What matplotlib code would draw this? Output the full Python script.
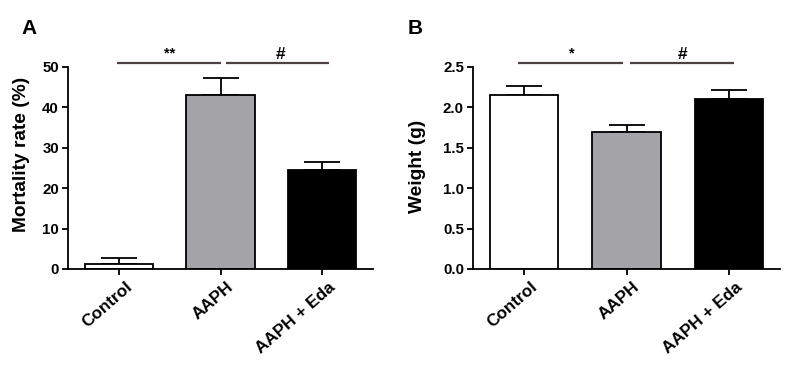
import matplotlib
matplotlib.use("Agg")
import matplotlib.pyplot as plt
import matplotlib.transforms as mtransforms
import numpy as np

plt.rcParams['font.family'] = ['Liberation Sans', 'DejaVu Sans']

categories = ["Control", "AAPH", "AAPH + Eda"]
mortality = [1.3, 43.1, 24.4]
mortality_err = [1.3, 4.2, 2.2]
weight = [2.155, 1.695, 2.108]
weight_err = [0.105, 0.09, 0.105]
bar_colors = ["white", "#a4a4a8", "black"]

fig = plt.figure(figsize=(8, 3.71), dpi=100)
axA = fig.add_axes([68/800, 1-269/371, (373-68)/800, (269-67)/371])
axB = fig.add_axes([473/800, 1-269/371, (780-473)/800, (269-67)/371])

lw = 1.3
sig_color = "#4d4242"

def draw(ax, vals, errs, ylim, yticks, yticklabels, ylabel, label_xy, sigs):
    x = np.arange(len(categories))
    ax.bar(x, vals, width=0.67, color=bar_colors, edgecolor="black",
           linewidth=lw, zorder=2)
    ax.errorbar(x, vals, yerr=[np.zeros(len(errs)), errs], fmt="none",
                ecolor="black", elinewidth=lw, capsize=13, capthick=lw, zorder=1)
    ax.set_xlim(-0.5, 2.5)
    ax.set_ylim(*ylim)
    ax.set_yticks(yticks)
    ax.set_yticklabels(yticklabels, fontsize=10.8, fontweight="bold")
    ax.set_xticks(x)
    ax.set_xticklabels(categories, fontsize=12.3, fontweight="bold",
                       rotation=41, ha="right", va="center", rotation_mode="anchor")
    ax.set_ylabel(ylabel, fontsize=13.8, fontweight="bold")
    ax.yaxis.set_label_coords(*label_xy)
    for s in ["top", "right"]:
        ax.spines[s].set_visible(False)
    for s in ["left", "bottom"]:
        ax.spines[s].set_linewidth(lw)
    ax.tick_params(axis="both", direction="out", width=lw, length=4.5, pad=2)
    ax.tick_params(axis="x", pad=7)
    offset = mtransforms.ScaledTranslation(11/100, 0, fig.dpi_scale_trans)
    for lab in ax.xaxis.get_majorticklabels():
        lab.set_transform(lab.get_transform() + offset)
    for (x0, x1, y, txt, tx, fs, fw, dy) in sigs:
        ax.plot([x0, x1], [y, y], color=sig_color, lw=1.6, clip_on=False,
                solid_capstyle="butt")
        ax.text(tx, y + ylim[1] * dy, txt, ha="center", va="bottom",
                fontsize=fs, fontweight=fw, clip_on=False)

draw(axA, mortality, mortality_err, (0, 50), [0, 10, 20, 30, 40, 50],
     ["0", "10", "20", "30", "40", "50"], "Mortality rate (%)", (-0.124, 0.567),
     [(-0.02, 1.0, 50.9, "**", 0.5, 10.5, "bold", 0.015),
      (1.05, 2.07, 50.9, "#", 1.59, 12.5, "bold", 0.005)])
draw(axB, weight, weight_err, (0, 2.5), [0, 0.5, 1.0, 1.5, 2.0, 2.5],
     ["0.0", "0.5", "1.0", "1.5", "2.0", "2.5"], "Weight (g)", (-0.153, 0.51),
     [(-0.06, 0.97, 2.546, "*", 0.466, 10.5, "bold", 0.015),
      (1.03, 2.05, 2.546, "#", 1.55, 12.5, "bold", 0.005)])

fig.text(21/800, 1-34/371, "A", fontsize=15, fontweight="bold", ha="left", va="baseline")
fig.text(408/800, 1-34/371, "B", fontsize=15, fontweight="bold", ha="left", va="baseline")

fig.savefig("out.png", dpi=100, facecolor="white")
